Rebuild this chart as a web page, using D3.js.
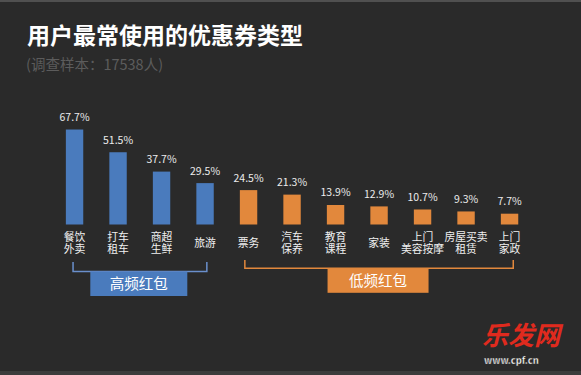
<!DOCTYPE html>
<html><head><meta charset="utf-8">
<script src="https://cdn.jsdelivr.net/npm/d3@7"></script>
<style>
html,body{margin:0;padding:0;background:#2a2a2a;}
svg{display:block;}
text{font-family:"Noto Sans CJK SC","Noto Sans",sans-serif;}
text.cat{font-family:"Liberation Sans","Noto Sans CJK SC",sans-serif;}
</style></head>
<body>
<svg id="c" width="581" height="375"></svg>
<script>
const title = "用户最常使用的优惠券类型";
const subtitle = "(调查样本：17538人)";
const categories = ["餐饮\n外卖","打车\n租车","商超\n生鲜","旅游","票务","汽车\n保养","教育\n课程","家装","上门\n美容按摩","房屋买卖\n租赁","上门\n家政"];
const values = [67.7, 51.5, 37.7, 29.5, 24.5, 21.3, 13.9, 12.9, 10.7, 9.3, 7.7];
const groups = ["high","high","high","high","low","low","low","low","low","low","low"];
const groupNames = [{key:"high", label:"高频红包"}, {key:"low", label:"低频红包"}];

const W = 581, H = 375;
const svg = d3.select("#c");
const colors = {high:"#4a7bbd", low:"#e2883c"};
const bracketColors = {high:"#6a8fcc", low:"#e2883c"};
const boxColors = {high:"#4a7bbd", low:"#e2883c"};

// frame
svg.append("rect").attr("x",0).attr("y",0).attr("width",W).attr("height",H).attr("fill","#2a2a2a");
svg.append("rect").attr("x",0).attr("y",0).attr("width",W).attr("height",2).attr("fill","#505050");
svg.append("rect").attr("x",0).attr("y",371).attr("width",W).attr("height",4).attr("fill","#3c3c3c");

svg.append("text").attr("x",27).attr("y",44).attr("fill","#ffffff")
  .attr("font-size",23).attr("font-weight","bold").text(title);
svg.append("text").attr("x",26).attr("y",70).attr("fill","#5c5c5c")
  .attr("font-size",14.5).text(subtitle);

const baseline = 224.5;
const x = d3.scaleBand().domain(d3.range(categories.length)).range([52.8, 531.3]).paddingInner(0.6).paddingOuter(0.3);
const y = d3.scaleLinear().domain([0, 100]).range([baseline, baseline - 140.3]);

const g = svg.append("g");
g.selectAll("rect.bar").data(values).join("rect").attr("class","bar")
  .attr("x",(d,i)=>x(i)).attr("width",x.bandwidth())
  .attr("y",d=>y(d)).attr("height",d=>baseline - y(d))
  .attr("fill",(d,i)=>colors[groups[i]]);

g.selectAll("text.val").data(values).join("text").attr("class","val")
  .attr("x",(d,i)=>x(i)+x.bandwidth()/2).attr("y",d=>y(d)-8.5)
  .attr("text-anchor","middle").attr("fill","#ececec").attr("font-size",10.5)
  .text(d=>d.toFixed(1)+"%");

categories.forEach((c,i)=>{
  const lines = c.split("\n");
  const cx = x(i)+x.bandwidth()/2;
  const lh = 12.6;
  const centerY = 243;
  lines.forEach((ln,j)=>{
    g.append("text").attr("class","cat").attr("x",cx)
      .attr("y", centerY - (lines.length-1)*lh/2 + j*lh + 4)
      .attr("text-anchor","middle").attr("fill","#f0f0f0").attr("font-size",10.8)
      .text(ln);
  });
});

// brackets and group boxes
const bracketY = {high:271.5, low:268.3};
const bracketTop = {high:262, low:260};
const ext = {high:[-1.5, 1.8], low:[-3.7, 3.7]};
const boxW = {high:97, low:101};
const boxH = {high:24.5, low:24.5};
groupNames.forEach(gn=>{
  const idx = d3.range(categories.length).filter(i=>groups[i]===gn.key);
  const x0 = x(idx[0]) + x.bandwidth()/2 + ext[gn.key][0];
  const x1 = x(idx[idx.length-1]) + x.bandwidth()/2 + ext[gn.key][1];
  const by = bracketY[gn.key], bt = bracketTop[gn.key];
  svg.append("path")
    .attr("d",`M${x0},${bt} L${x0},${by} L${x1},${by} L${x1},${bt}`)
    .attr("fill","none").attr("stroke",bracketColors[gn.key]).attr("stroke-width",1.5);
  const cx = (x(idx[0]) + x(idx[idx.length-1]) + x.bandwidth())/2 - 1;
  svg.append("rect").attr("x",cx - boxW[gn.key]/2).attr("y",by)
    .attr("width",boxW[gn.key]).attr("height",boxH[gn.key]).attr("fill",boxColors[gn.key]);
  svg.append("text").attr("x",cx).attr("y",by + boxH[gn.key]/2 + 5.2)
    .attr("text-anchor","middle").attr("fill","#ffffff").attr("font-size",14.5).text(gn.label);
});

// watermark text
svg.append("text").attr("x",482).attr("y",345).attr("fill","#e02a1e")
  .attr("font-size",26).attr("font-weight","bold").attr("font-style","italic").text("乐发网");
svg.append("text").attr("x",484).attr("y",364).attr("fill","#ffffff").attr("stroke","#333").attr("stroke-width",0.3)
  .attr("font-size",9.5).attr("font-weight","bold").attr("font-family","DejaVu Sans").text("www.cpf.cn");
</script>
</body></html>
